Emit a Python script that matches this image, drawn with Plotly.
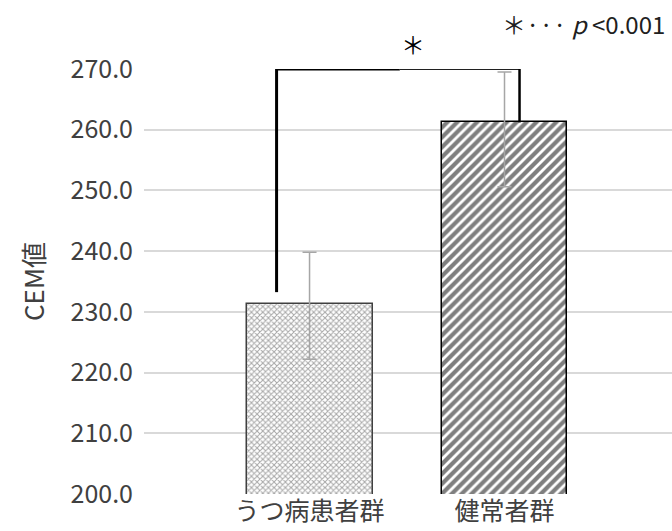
import plotly.graph_objects as go

categories = ["うつ病患者群", "健常者群"]
means = [231.25, 261.2]
err_plus = [8.55, 8.3]
err_minus = [9.05, 10.6]
y_ticks = [200, 210, 220, 230, 240, 250, 260, 270]
sig_label = "＊"
legend_note = "＊··· <i>p</i> <0.001"

FONT = "Noto Sans CJK JP"
TXT = "#404040"
PLOT_TOP, PLOT_H = 69, 425

fig = go.Figure()
fig.add_trace(go.Bar(
    x=[categories[0]], y=[means[0]], width=0.646,
    marker=dict(color="white",
                line=dict(color="#404040", width=1.5),
                pattern=dict(shape="x", fgcolor="#505050", bgcolor="white",
                             size=4, solidity=0.45, fillmode="overlay")),
    error_y=dict(type="data", symmetric=False, array=[err_plus[0]],
                 arrayminus=[err_minus[0]], color="#a6a6a6", thickness=1.5, width=7),
    showlegend=False))
fig.add_trace(go.Bar(
    x=[categories[1]], y=[means[1]], width=0.646,
    marker=dict(color="white",
                line=dict(color="#000000", width=1.5),
                pattern=dict(shape="/", fgcolor="#000000", bgcolor="white",
                             size=7, solidity=0.6, fillmode="overlay")),
    error_y=dict(type="data", symmetric=False, array=[err_plus[1]],
                 arrayminus=[err_minus[1]], color="#a6a6a6", thickness=1.5, width=7),
    showlegend=False))

# significance bracket
top = y_ticks[-1]
xl, xr = -0.169, 1.077
xm = 0.463
fig.add_shape(type="line", x0=xl, x1=xl, y0=means[0] + 2.0, y1=top,
              xref="x", yref="y", line=dict(color="black", width=3))
fig.add_shape(type="line", x0=xl, x1=xm, y0=top, y1=top,
              xref="x", yref="y", line=dict(color="black", width=3))
fig.add_shape(type="line", x0=xm, x1=xr, y0=top, y1=top,
              xref="x", yref="y", line=dict(color="#202020", width=2))
fig.add_shape(type="line", x0=xr, x1=xr, y0=top, y1=means[1],
              xref="x", yref="y", line=dict(color="black", width=2.5))

fig.add_annotation(x=0.531, y=1 + (PLOT_TOP - 44) / PLOT_H, xref="x", yref="paper",
                   text=sig_label, showarrow=False, yanchor="middle",
                   font=dict(family=FONT, size=24, color="#000000"))
fig.add_annotation(x=0.99, y=1 + (PLOT_TOP - 23) / PLOT_H, xref="paper", yref="paper",
                   text=legend_note, showarrow=False, xanchor="right", yanchor="middle",
                   font=dict(family=FONT, size=24, color="#202020"))

fig.update_layout(
    width=672, height=531,
    margin=dict(l=144, r=0, t=PLOT_TOP, b=531 - PLOT_TOP - PLOT_H),
    paper_bgcolor="white", plot_bgcolor="white",
    bargap=0,
    font=dict(family=FONT, color=TXT, size=20),
    xaxis=dict(type="category", range=[-0.849, 1.859], showgrid=False,
               showline=False, ticks="", tickfont=dict(size=25, color=TXT)),
    yaxis=dict(range=[200, 270], tickvals=y_ticks, tickformat=".1f",
               showgrid=True, gridcolor="#d9d9d9", gridwidth=1.5,
               zeroline=False, showline=False, ticks="",
               ticklabelstandoff=10,
               tickfont=dict(size=25, color=TXT)),
)
fig.update_yaxes(title_text="CEM値", title_font=dict(family=FONT, size=26, color=TXT),
                 title_standoff=18)

fig.write_html("out.html")
